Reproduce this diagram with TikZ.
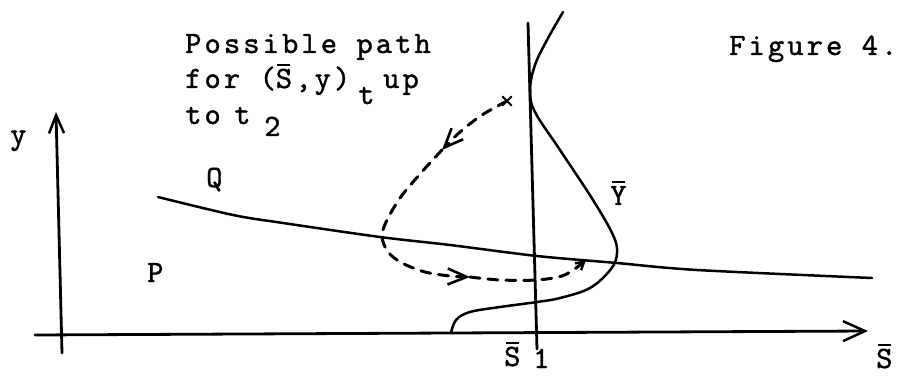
\documentclass[tikz,border=0pt]{standalone}
\usepackage{fontspec}
\usetikzlibrary{arrows.meta}
\newfontfamily\tw{lmmono10-regular.otf}[LetterSpace=10,FakeBold=1.2]
\newcommand\ob[1]{\rlap{\hspace{0.05em}\raisebox{0.72em}{\rule{0.42em}{1.8pt}}}#1}
\begin{document}
\begin{tikzpicture}[x=1pt,y=-1pt,line cap=round,line join=round,
  axis/.style={line width=2.8pt},
  curve/.style={line width=2.5pt},
  dpath/.style={line width=3pt,dash pattern=on 10pt off 8pt},
  lbl/.style={font=\tw\fontsize{31}{37}\selectfont,inner sep=0pt,anchor=base west},
  bigtip/.style={-{Straight Barb[length=18pt,width=15pt,line width=2.5pt]}},
  midtip/.style={-{Straight Barb[length=19pt,width=16pt,line width=2.6pt]}},
  endtip/.style={-{Straight Barb[length=8pt,width=9pt,line width=2.4pt]}}]
\useasboundingbox (0,0) rectangle (898,377);
% axes
\coordinate (yb) at (62,353); \coordinate (yt) at (56,112);
\coordinate (xl) at (35,335); \coordinate (xr) at (868,331);
\draw[axis,bigtip] (yb) -- (yt);
\draw[axis,-{Straight Barb[length=22pt,width=20pt,line width=2.5pt]}] (xl) -- (xr);
% vertical line S1
\coordinate (vt) at (528,23); \coordinate (vb) at (537,349);
\draw[axis] (vt) -- (vb);
% Q line
\draw[curve] plot[smooth,tension=0.5] coordinates {(158,197) (233,215) (283,223) (380,237) (450,245) (537,256) (617,263) (697,270) (872,278)};
% gamma bar curve
\draw[curve] plot[smooth,tension=0.6] coordinates {(563,12) (547,40) (535,65) (530,90) (535,112) (560,150) (593,200) (613,235) (617,253) (611,269) (590,288) (560,298) (537,302) (500,307) (470,312) (456,320) (451,333)};
% dashed path
\coordinate (ds) at (507,101);
\coordinate (a1) at (442,150);
\coordinate (a2) at (470,277);
\coordinate (de) at (586,260);
\draw[dpath,midtip] plot[smooth] coordinates {(ds) (482,115) (460,132) (a1)};
\draw[dpath,midtip] plot[smooth] coordinates {(a1) (420,174) (400,198) (386,222) (382,237) (388,252) (402,263) (425,272) (450,276) (a2)};
\draw[dpath,endtip] plot[smooth] coordinates {(a2) (500,280) (537,280) (562,276) (576,268) (de)};
\draw[line width=2pt] (ds) +(-4.5,-4.5) -- +(4.5,4.5) (ds) +(-4.5,4.5) -- +(4.5,-4.5);
% labels
\node[lbl] (l1) at (185,53) {Possible path};
\node[lbl] (l2) at (185,88) {for (\ob{S},y)};
\node[lbl] (l2t) at (358,104) {t};
\node[lbl] (l2u) at (383,88) {up};
\node[lbl] (l3) at (185,124) {to};
\node[lbl] (l3t) at (234,124) {t};
\node[lbl] (l32) at (264,136) {2};
\node[lbl] (fig) at (729,55) {Figure 4.};
\node[lbl] (ly) at (10,144) {y};
\node[lbl] (lq) at (206,187) {Q};
\node[lbl] (lp) at (147,282) {P};
\node[lbl] (lg) at (610,205) {\ob{Y}};
\node[lbl] (ls1) at (504,366) {\ob{S}};
\node[lbl] (ls1i) at (533,368) {1};
\node[lbl] (lsx) at (876,368) {\ob{S}};
\end{tikzpicture}
\end{document}
